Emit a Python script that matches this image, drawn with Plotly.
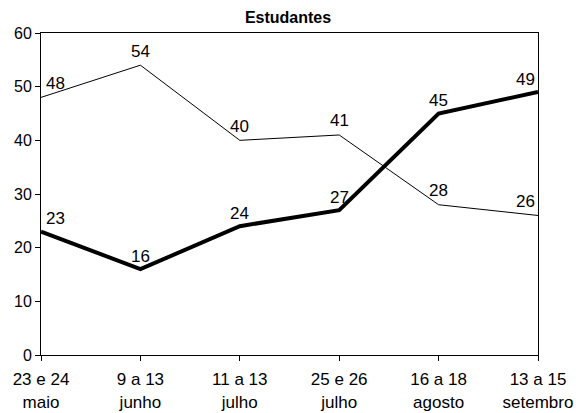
import plotly.graph_objects as go

categorias = ["23 e 24<br>maio", "9 a 13<br>junho", "11 a 13<br>julho",
              "25 e 26<br>julho", "16 a 18<br>agosto", "13 a 15<br>setembro"]
serie_fina = [48, 54, 40, 41, 28, 26]
serie_grossa = [23, 16, 24, 27, 45, 49]
y_ticks = [0, 10, 20, 30, 40, 50, 60]

x = list(range(len(categorias)))
FONT = "Liberation Sans, Arial, sans-serif"

fig = go.Figure()
# thin series first so the thick one sits on top where they cross
for valores, largura, dy in ((serie_fina, 1, 14), (serie_grossa, 4, 13)):
    fig.add_trace(go.Scatter(
        x=x, y=valores, mode="lines",
        line=dict(color="black", width=largura),
        showlegend=False, hoverinfo="skip",
    ))
    # value labels above each point, kept inside the plot at both ends
    for i, v in zip(x, valores):
        if i == 0:
            dx = 14
        elif i == len(x) - 1:
            dx = -13
        else:
            dx = 0
        fig.add_annotation(
            x=i, y=v, text=str(v), showarrow=False,
            xanchor="center", yanchor="middle",
            xshift=dx, yshift=dy,
            font=dict(family=FONT, size=17, color="black"),
        )

fig.update_layout(
    width=576, height=413,
    margin=dict(l=41, r=38, t=33, b=58),
    paper_bgcolor="white", plot_bgcolor="white",
    font=dict(family=FONT, size=16, color="black"),
    title=dict(text="<b>Estudantes</b>", x=0.5, xanchor="center",
               y=0.957, yanchor="middle",
               font=dict(family=FONT, size=16, color="black")),
)
fig.update_xaxes(
    range=[0, len(categorias) - 1], tickvals=x, ticktext=categorias,
    showgrid=False, zeroline=False, showline=True, linecolor="black",
    linewidth=1, mirror=True, ticks="outside", ticklen=5,
    tickcolor="black", tickfont=dict(size=17), automargin=False,
    ticklabelstandoff=4,
)
fig.update_yaxes(
    range=[0, 60], tickvals=y_ticks, showgrid=False, zeroline=False,
    showline=True, linecolor="black", linewidth=1, mirror=True,
    ticks="outside", ticklen=5, tickcolor="black", tickfont=dict(size=16),
    automargin=False,
)

fig.write_html("out.html")
